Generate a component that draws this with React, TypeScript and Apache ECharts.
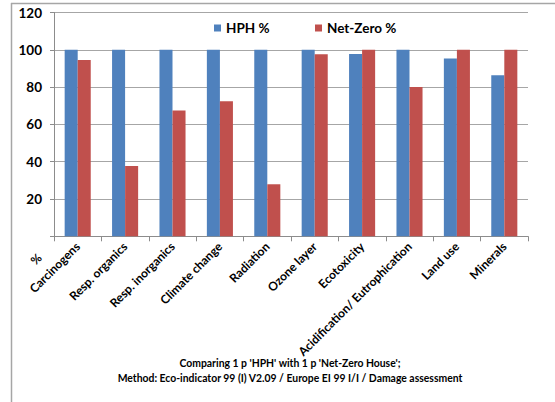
import React, { useEffect, useRef } from "react";
import * as echarts from "echarts";

const categories = [
  "Carcinogens",
  "Resp. organics",
  "Resp. inorganics",
  "Climate change",
  "Radiation",
  "Ozone layer",
  "Ecotoxicity",
  "Acidification/ Eutrophication",
  "Land use",
  "Minerals",
];
const hphValues = [100, 100, 100, 100, 100, 100, 97.7, 100, 95.4, 86.4];
const netZeroValues = [94.5, 37.7, 67.4, 72.4, 27.9, 97.6, 100, 80.1, 100, 100];
const seriesNames = ["HPH %", "Net-Zero %"];
const yTicks = { min: 0, max: 120, interval: 20 };
const titleLines = [
  "Comparing 1 p 'HPH' with 1 p 'Net-Zero House';",
  "Method: Eco-indicator 99 (I) V2.09 / Europe EI 99 I/I / Damage assessment",
];
const yAxisName = "%";

const FONT = "Lato, 'Open Sans', sans-serif";

export default function App() {
  const ref = useRef<HTMLDivElement>(null);
  useEffect(() => {
    if (!ref.current) return;
    const chart = echarts.init(ref.current, undefined, { renderer: "svg" });
    chart.setOption({
      animation: false,
      backgroundColor: "#ffffff",
      textStyle: { fontFamily: FONT },
      grid: { left: 54, right: 27, top: 12.5, bottom: 165.7, containLabel: false },
      legend: [
        {
          data: [seriesNames[0]],
          left: 214,
          top: 21,
          padding: 0,
          icon: "rect",
          itemWidth: 7,
          itemHeight: 7,
          textStyle: { fontFamily: FONT, fontWeight: "bold", fontSize: 13.5, color: "#000" },
        },
        {
          data: [seriesNames[1]],
          left: 315,
          top: 21,
          padding: 0,
          icon: "rect",
          itemWidth: 7,
          itemHeight: 7,
          textStyle: { fontFamily: FONT, fontWeight: "bold", fontSize: 13.5, color: "#000" },
        },
      ],
      xAxis: {
        type: "category",
        data: categories,
        axisLine: { show: true, lineStyle: { color: "#8c8c8c", width: 1 } },
        axisTick: { show: true, alignWithLabel: false, length: 5, lineStyle: { color: "#8c8c8c" } },
        axisLabel: {
          interval: 0,
          rotate: 45,
          margin: 8,
          fontFamily: FONT,
          fontWeight: "bold",
          fontSize: 12,
          color: "#000",
        },
      },
      yAxis: {
        type: "value",
        min: yTicks.min,
        max: yTicks.max,
        interval: yTicks.interval,
        axisLine: { show: true, lineStyle: { color: "#8c8c8c", width: 1 } },
        axisTick: { show: true, length: 4, lineStyle: { color: "#8c8c8c" } },
        splitLine: { show: true, lineStyle: { color: "#a6a6a6", width: 1 } },
        axisLabel: {
          margin: 12,
          fontFamily: FONT,
          fontWeight: "bold",
          fontSize: 13.5,
          color: "#000",
          formatter: (v: number) => (v === 0 ? "" : String(v)),
        },
      },
      series: [
        {
          name: seriesNames[0],
          type: "bar",
          data: hphValues,
          barGap: "0%",
          barCategoryGap: "45%",
          itemStyle: { color: "#4F81BD" },
        },
        {
          name: seriesNames[1],
          type: "bar",
          data: netZeroValues,
          barGap: "0%",
          barCategoryGap: "45%",
          itemStyle: { color: "#C0504D" },
        },
      ],
      graphic: [
        {
          type: "line",
          shape: { x1: 11.5, y1: 3, x2: 11.5, y2: 402 },
          style: { stroke: "#a6a6a6", lineWidth: 1.5 },
        },
        {
          type: "line",
          shape: { x1: 11, y1: 3.5, x2: 555, y2: 3.5 },
          style: { stroke: "#a6a6a6", lineWidth: 1.5 },
        },
        {
          type: "text",
          x: 36,
          y: 259,
          rotation: Math.PI / 4,
          style: {
            text: yAxisName,
            fontFamily: FONT,
            fontWeight: "bold",
            fontSize: 12,
            fill: "#000",
            textAlign: "center",
            textVerticalAlign: "middle",
          },
        },
        {
          type: "text",
          x: 290,
          y: 370.5,
          style: {
            text: titleLines.join("\n"),
            fontFamily: FONT,
            fontWeight: "bold",
            fontSize: 10.4,
            lineHeight: 15.5,
            fill: "#000",
            textAlign: "center",
            textVerticalAlign: "middle",
          },
        },
      ],
    });
    return () => chart.dispose();
  }, []);
  return (
    <div
      ref={ref}
      style={{ position: "fixed", left: 0, top: 0, width: 555, height: 402 }}
    />
  );
}
